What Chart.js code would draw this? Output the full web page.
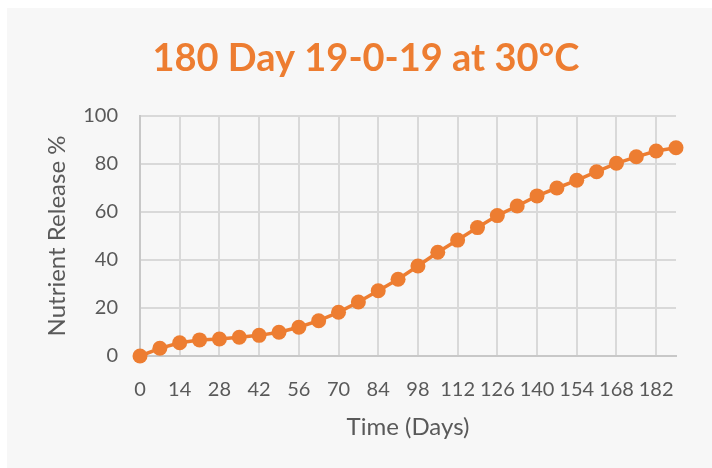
<!DOCTYPE html>
<html>
<head>
<meta charset="utf-8">
<script src="https://cdn.jsdelivr.net/npm/chart.js@4/dist/chart.umd.min.js"></script>
<style>
  html, body { margin: 0; padding: 0; background: #ffffff; }
  #wrap { position: relative; width: 712px; height: 468px; }
</style>
</head>
<body>
<div id="wrap"><canvas id="c"></canvas></div>
<script>
const days = [0,7,14,21,28,35,42,49,56,63,70,77,84,91,98,105,112,119,126,133,140,147,154,161,168,175,182,189];
const release = [0,3.2,5.5,6.7,7.1,7.8,8.6,9.9,12.0,14.7,18.2,22.5,27.2,32.0,37.5,43.2,48.3,53.5,58.5,62.5,66.7,70.0,73.2,76.8,80.3,83.0,85.4,86.8];
const xTickLabels = [0,14,28,42,56,70,84,98,112,126,140,154,168,182];
const yTickLabels = [0,20,40,60,80,100];
const titleText = "180 Day 19-0-19 at 30°C";
const xTitle = "Time (Days)";
const yTitle = "Nutrient Release %";

const ORANGE = "#ED7D31";
const TEXT = "#595959";

const panel = {
  id: 'panel',
  beforeDraw(chart) {
    const ctx = chart.ctx;
    ctx.save();
    ctx.fillStyle = "#F7F7F7";
    ctx.fillRect(7, 8, chart.width - 7, chart.height - 8);
    ctx.restore();
  }
};

const titlePlugin = {
  id: 'centeredTitle',
  afterDraw(chart) {
    const ctx = chart.ctx;
    ctx.save();
    ctx.fillStyle = ORANGE;
    ctx.font = "bold 38px Lato";
    ctx.textAlign = "center";
    ctx.textBaseline = "alphabetic";
    ctx.fillText(titleText, 366, 71);
    ctx.restore();
  }
};

new Chart(document.getElementById('c'), {
  type: 'line',
  data: {
    datasets: [{
      data: days.map((d, i) => ({ x: d, y: release[i] })),
      borderColor: ORANGE,
      backgroundColor: ORANGE,
      borderWidth: 3.5,
      pointRadius: 7.5,
      pointHoverRadius: 7.5,
      pointBorderWidth: 0,
      tension: 0,
      clip: false
    }]
  },
  options: {
    responsive: true,
    maintainAspectRatio: false,
    animation: false,
    layout: { padding: { left: 0, right: 36, top: 116, bottom: 0 } },
    plugins: {
      legend: { display: false },
      tooltip: { enabled: false },
      title: { display: false }
    },
    scales: {
      x: {
        type: 'linear',
        min: 0,
        max: 189,
        afterBuildTicks: s => { s.ticks = xTickLabels.map(v => ({ value: v })); },
        afterFit: s => { s.height = 112; },
        ticks: {
          color: TEXT,
          font: { family: 'Lato', size: 20 },
          padding: 22,
          maxRotation: 0,
          autoSkip: false
        },
        grid: { color: '#D9D9D9', lineWidth: 2, drawTicks: false },
        border: { color: '#C8C8C8', width: 2 },
        title: {
          display: true,
          text: xTitle,
          color: TEXT,
          font: { family: 'Lato', size: 24 },
          padding: { top: 0, bottom: 26 }
        }
      },
      y: {
        min: 0,
        max: 100,
        afterBuildTicks: s => { s.ticks = yTickLabels.map(v => ({ value: v })); },
        afterFit: s => { s.width = 140; },
        ticks: {
          color: TEXT,
          font: { family: 'Lato', size: 20 },
          padding: 22
        },
        grid: { color: '#D9D9D9', lineWidth: 2, drawTicks: false },
        border: { color: '#C8C8C8', width: 2 },
        title: {
          display: true,
          text: yTitle,
          color: TEXT,
          font: { family: 'Lato', size: 24 },
          padding: { top: 43, bottom: 0 }
        }
      }
    }
  },
  plugins: [panel, titlePlugin]
});
</script>
</body>
</html>
